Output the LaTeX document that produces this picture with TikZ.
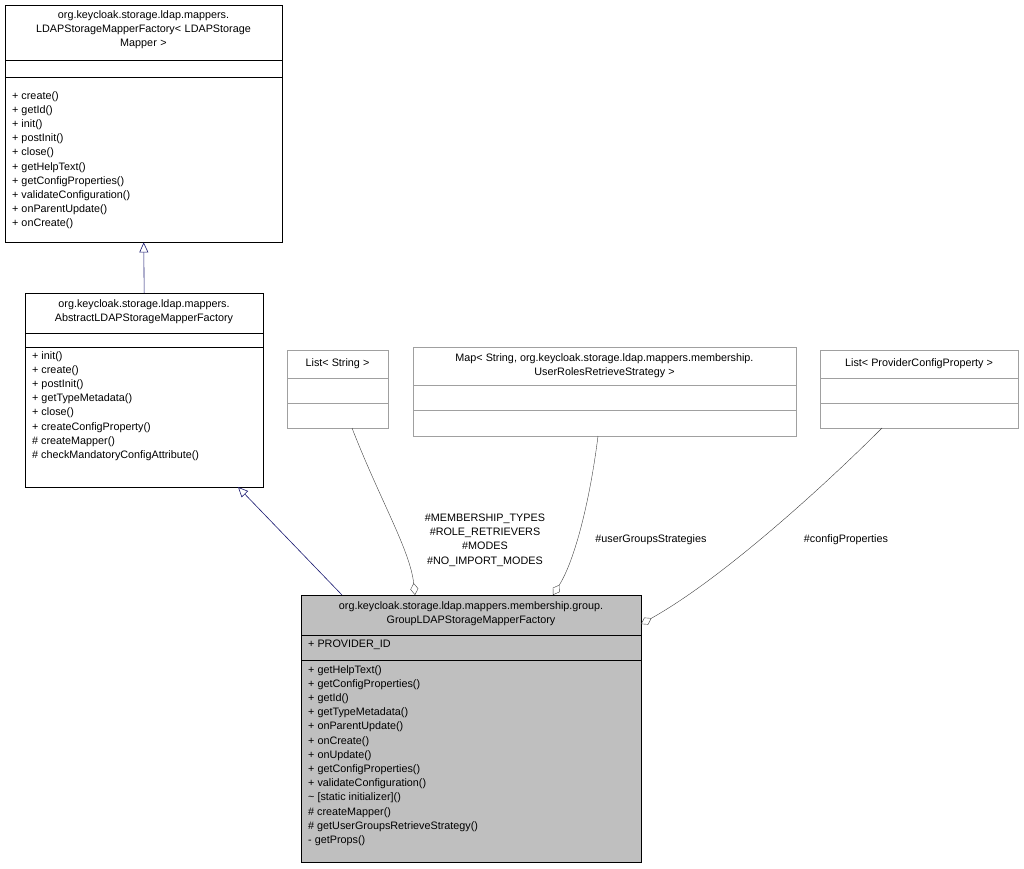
\documentclass[tikz,border=0pt]{standalone}
\usepackage{fontspec}
\setmainfont{Liberation Sans}
\usetikzlibrary{arrows.meta}
\definecolor{umlgray}{HTML}{BFBFBF}
\definecolor{boxline}{HTML}{A0A0A0}
\definecolor{navyline}{HTML}{191970}
\definecolor{aggline}{HTML}{404040}
\tikzstyle{classbox} = [draw=black, anchor=north west, inner sep=0pt]
\tikzstyle{fieldbox} = [draw=boxline, anchor=north west, inner sep=0pt]
\tikzstyle{title} = [anchor=north, align=center, inner sep=0pt]
\tikzstyle{members} = [anchor=north west, align=left, inner sep=0pt]
\tikzstyle{inherit} = [navyline, semithick, -{Triangle[open,length=10pt,width=9pt]}]
\tikzstyle{aggregate} = [aggline, -{Diamond[open,length=12pt,width=8pt]}]
\tikzstyle{rolelabel} = [align=center, inner sep=0pt]

\begin{document}
\begin{tikzpicture}[x=1pt, y=-1pt,
  every node/.style={font=\fontsize{10.8}{14.2}\selectfont},
]
\useasboundingbox (0,0) rectangle (1024,868);

% base factory interface
\node[classbox, minimum width=277pt, minimum height=237pt] (base) at (5,5) {};
\draw (5,60) -- (282,60) (5,77) -- (282,77);
\node[title, text width=272pt] (baset) at (143.5,10) {org.keycloak.storage.ldap.mappers.\\LDAPStorageMapperFactory< LDAPStorage\\Mapper >};
\node[members] (basem) at (12,91) {+ create()\\+ getId()\\+ init()\\+ postInit()\\+ close()\\+ getHelpText()\\+ getConfigProperties()\\+ validateConfiguration()\\+ onParentUpdate()\\+ onCreate()};

% abstract factory
\node[classbox, minimum width=238pt, minimum height=194pt] (abs) at (25,293) {};
\draw (25,333) -- (263,333) (25,347) -- (263,347);
\node[title, text width=234pt] (abst) at (144,299) {org.keycloak.storage.ldap.mappers.\\AbstractLDAPStorageMapperFactory};
\node[members] (absm) at (32,351) {+ init()\\+ create()\\+ postInit()\\+ getTypeMetadata()\\+ close()\\+ createConfigProperty()\\\# createMapper()\\\# checkMandatoryConfigAttribute()};

% field types
\node[fieldbox, minimum width=101pt, minimum height=78pt] (strlist) at (287,350) {};
\draw[boxline] (287,378) -- (388,378) (287,403) -- (388,403);
\node[title] (strlistt) at (337.5,358) {List< String >};

\node[fieldbox, minimum width=383pt, minimum height=89pt] (rolemap) at (413,347) {};
\draw[boxline] (413,385) -- (796,385) (413,410) -- (796,410);
\node[title] (rolemapt) at (604.5,353) {Map< String, org.keycloak.storage.ldap.mappers.membership.\\UserRolesRetrieveStrategy >};

\node[fieldbox, minimum width=198pt, minimum height=78pt] (proplist) at (820,350) {};
\draw[boxline] (820,378) -- (1018,378) (820,403) -- (1018,403);
\node[title] (proplistt) at (919,358) {List< ProviderConfigProperty >};

% group factory
\node[classbox, fill=umlgray, minimum width=340pt, minimum height=267pt] (group) at (301,595) {};
\draw (301,635) -- (641,635) (301,660) -- (641,660);
\node[title, text width=336pt] (groupt) at (471,601) {org.keycloak.storage.ldap.mappers.membership.group.\\GroupLDAPStorageMapperFactory};
\node[members] (groupa) at (308,640) {+ PROVIDER\_ID};
\node[members] (groupm) at (308,665) {+ getHelpText()\\+ getConfigProperties()\\+ getId()\\+ getTypeMetadata()\\+ onParentUpdate()\\+ onCreate()\\+ onUpdate()\\+ getConfigProperties()\\+ validateConfiguration()\\\textasciitilde{} [static initializer]()\\\# createMapper()\\\# getUserGroupsRetrieveStrategy()\\- getProps()};

% connectors
\coordinate (gn1) at (342,595);
\coordinate (gn2) at (415,595);
\coordinate (gn3) at (553,595);
\coordinate (ge) at (641,624);
\draw[inherit] (abs.north) -- (base.south);
\draw[inherit] (gn1) -- (238,487);
\draw[aggregate] (352,428) .. controls (380,500) and (410,550) .. (gn2);
\draw[aggregate] (598,436) .. controls (590,500) and (575,560) .. (gn3);
\draw[aggregate] (882,428) .. controls (820,490) and (720,580) .. (ge);

\node[rolelabel] (lab1) at (485,540) {\#MEMBERSHIP\_TYPES\\\#ROLE\_RETRIEVERS\\\#MODES\\\#NO\_IMPORT\_MODES};
\node[rolelabel] (lab2) at (651,540) {\#userGroupsStrategies};
\node[rolelabel] (lab3) at (846,540) {\#configProperties};
\end{tikzpicture}
\end{document}
